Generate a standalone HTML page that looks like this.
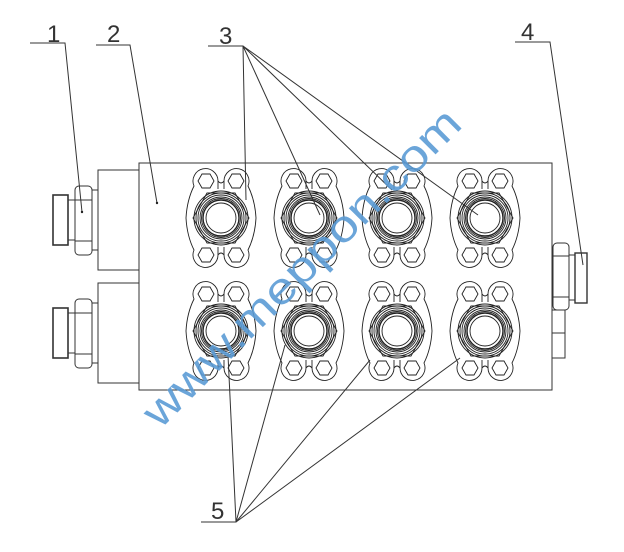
<!DOCTYPE html>
<html><head><meta charset="utf-8"><style>
html,body{margin:0;padding:0;background:#fff;width:624px;height:552px;overflow:hidden}
svg{display:block}
text{font-family:"Liberation Sans",sans-serif}
</style></head><body>
<svg width="624" height="552" viewBox="0 0 624 552" xmlns="http://www.w3.org/2000/svg">
<defs>
<g id="fl" fill="none" stroke="#222" stroke-width="0.9">
  <path d="M-3,-37 A12.5,12.5 0 1 0 -27,-32 Q-34,-18 -35,0 Q-34,18 -27,32 A12.5,12.5 0 1 0 -3,37 Q0,33 3,37 A12.5,12.5 0 1 0 27,32 Q34,18 35,0 Q34,-18 27,-32 A12.5,12.5 0 1 0 3,-37 Q0,-33 -3,-37 Z"/>
  <path d="M-3,-37 L-3,-29 M3,-37 L3,-29 M-3,37 L-3,29 M3,37 L3,29"/>
  <polygon points="-23,-37 -19,-44 -11,-44 -7,-37 -11,-30 -19,-30"/>
  <polygon points="7,-37 11,-44 19,-44 23,-37 19,-30 11,-30"/>
  <polygon points="-23,37 -19,30 -11,30 -7,37 -11,44 -19,44"/>
  <polygon points="7,37 11,30 19,30 23,37 19,44 11,44"/>
  <polygon points="-28,0 -14,-25 14,-25 28,0 14,25 -14,25"/>
  <circle r="27"/><circle r="25"/><circle r="23"/><circle r="21"/><circle r="19.5"/><circle r="18" stroke-width="1.4"/><circle r="15"/>
</g>
</defs>
<g fill="none" stroke="#333" stroke-width="1">
  <rect x="139" y="163" width="413" height="227"/>
  <rect x="98" y="170" width="41" height="100"/>
  <rect x="98" y="283" width="41" height="100"/>
  <g>
    <rect x="75" y="186" width="17" height="69" rx="4"/>
    <line x1="75" y1="200" x2="92" y2="200"/><line x1="75" y1="241" x2="92" y2="241"/>
    <line x1="92" y1="190" x2="98" y2="190"/><line x1="92" y1="250" x2="98" y2="250"/>
    <rect x="68" y="200" width="7" height="40"/>
    <rect x="53" y="195" width="15" height="50" stroke-width="1.6"/>
  </g>
  <g transform="translate(0,113)">
    <rect x="75" y="186" width="17" height="69" rx="4"/>
    <line x1="75" y1="200" x2="92" y2="200"/><line x1="75" y1="241" x2="92" y2="241"/>
    <line x1="92" y1="190" x2="98" y2="190"/><line x1="92" y1="250" x2="98" y2="250"/>
    <rect x="68" y="200" width="7" height="40"/>
    <rect x="53" y="195" width="15" height="50" stroke-width="1.6"/>
  </g>
  <rect x="553" y="243" width="16" height="67" rx="4"/>
  <line x1="553" y1="256" x2="569" y2="256"/><line x1="553" y1="297" x2="569" y2="297"/>
  <rect x="569" y="255" width="6" height="45"/>
  <rect x="575" y="253" width="12" height="50" stroke-width="1.4"/>
  <rect x="552" y="310" width="13" height="48"/>
  <line x1="552" y1="333" x2="565" y2="333"/>
</g>
<use href="#fl" x="221" y="218"/><use href="#fl" x="309" y="218"/><use href="#fl" x="397" y="218"/><use href="#fl" x="485" y="218"/>
<use href="#fl" x="221" y="331"/><use href="#fl" x="309" y="331"/><use href="#fl" x="397" y="331"/><use href="#fl" x="485" y="331"/>
<g stroke="#333" stroke-width="1" fill="none">
  <path d="M30,43 L65,43 L82,212"/>
  <path d="M96,45 L130,45 L157,203"/>
  <path d="M208,46 L243,46 L246,200 M243,46 L320,215 M243,46 L392,190 M243,46 L478,215"/>
  <path d="M515,42 L550,42 L583,265"/>
  <path d="M201,522 L236,522 L228,355 M236,522 L285,345 M236,522 L370,360 M236,522 L460,358"/>
</g>
<circle cx="82" cy="212" r="1.2" fill="#222"/><circle cx="157" cy="203" r="1.2" fill="#222"/>
<g fill="#333" font-size="24">
  <text x="47" y="42">1</text><text x="107" y="42">2</text><text x="219" y="44">3</text><text x="521" y="40">4</text><text x="211" y="519">5</text>
</g>
<text x="0" y="0" font-size="44" fill="#5b9bd5" fill-opacity="0.9" transform="translate(160,430) rotate(-45)" textLength="430" lengthAdjust="spacingAndGlyphs">www.meppon.com</text>
</svg>
</body></html>
